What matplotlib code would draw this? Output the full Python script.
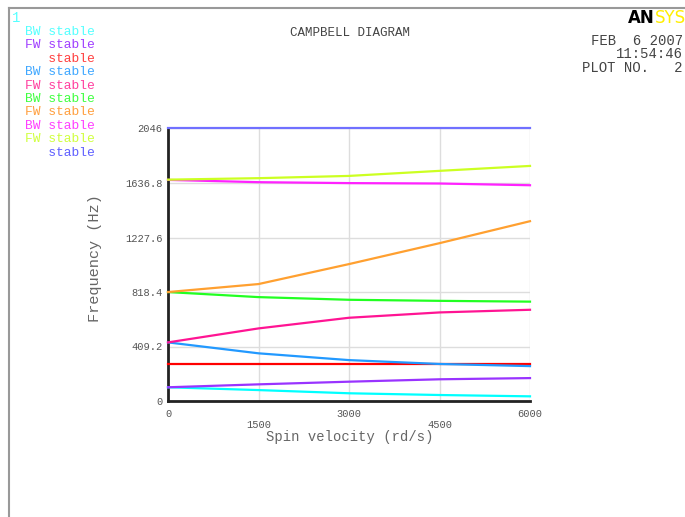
import matplotlib.pyplot as plt
from matplotlib.lines import Line2D

# spin velocity (rd/s)
spin = [0, 1500, 3000, 4500, 6000]

# whirl frequencies (Hz) per mode
modes = [
    ("BW", [103, 82, 58, 45, 35]),
    ("FW", [103, 125, 145, 163, 172]),
    ("", [275, 275, 275, 275, 275]),
    ("BW", [440, 358, 307, 278, 262]),
    ("FW", [440, 545, 625, 665, 685]),
    ("BW", [818, 780, 760, 752, 746]),
    ("FW", [818, 878, 1028, 1185, 1350]),
    ("BW", [1660, 1643, 1636, 1633, 1620]),
    ("FW", [1662, 1673, 1690, 1728, 1765]),
    ("", [2046, 2046, 2046, 2046, 2046]),
]
line_colors = ["#00ffff", "#9933ff", "#ff0000", "#2299ff", "#ff1493",
               "#22ff22", "#ffa030", "#ff22ff", "#ccff22", "#7070ff"]
text_colors = ["#55ffff", "#a040ff", "#ff4040", "#40a8ff", "#ff40a0",
               "#40ff40", "#ffa040", "#ff40ff", "#d0ff40", "#6060ff"]

yticks = [0, 409.2, 818.4, 1227.6, 1636.8, 2046]
ytick_labels = ["0", "409.2", "818.4", "1227.6", "1636.8", "2046"]
xticks = [0, 1500, 3000, 4500, 6000]

mono = "Liberation Mono"

fig = plt.figure(figsize=(6.85, 5.17), dpi=100)

# outer frame (left and top edges only)
fig.add_artist(Line2D([9 / 685, 9 / 685], [0, 1 - 8 / 517], color="#999999", lw=1.5))
fig.add_artist(Line2D([9 / 685, 1], [1 - 8 / 517, 1 - 8 / 517], color="#999999", lw=1.5))

ax = fig.add_axes([168 / 685, 1 - 401 / 517, 362 / 685, 272.5 / 517])
for (tag, freq), c in zip(modes, line_colors):
    ax.plot(spin, freq, color=c, lw=1.6, clip_on=False, zorder=3)

ax.set_xlim(0, 6000)
ax.set_ylim(0, 2046)
ax.set_yticks(yticks)
ax.set_yticklabels(ytick_labels, fontfamily=mono, fontsize=7.5, color="#555555")
ax.set_xticks(xticks)
ax.set_xticklabels([])
for i, xv in enumerate(xticks):
    ax.text(xv, -95 if i % 2 == 0 else -180, str(xv), ha="center", va="center",
            fontfamily=mono, fontsize=7.5, color="#555555")
ax.tick_params(length=0, pad=4)
ax.grid(True, color="#dddddd", lw=1)
ax.set_axisbelow(True)
for s in ["top", "right"]:
    ax.spines[s].set_visible(False)
for s in ["left", "bottom"]:
    ax.spines[s].set_color("#222222")
    ax.spines[s].set_linewidth(2)

fig.text(350 / 685, 1 - 437 / 517, "Spin velocity (rd/s)", ha="center", va="center",
         fontfamily=mono, fontsize=10, color="#666666")
fig.text(95 / 685, 1 - 258 / 517, "Frequency (Hz)", ha="center", va="center",
         rotation=90, fontfamily=mono, fontsize=11, color="#666666")

fig.text(350 / 685, 1 - 33 / 517, "CAMPBELL DIAGRAM", ha="center", va="center",
         fontfamily=mono, fontsize=9, color="#444444")

# legend
fig.text(12 / 685, 1 - 18 / 517, "1", ha="left", va="center",
         fontfamily=mono, fontsize=10, color="#55ffff")
for i, ((tag, freq), c) in enumerate(zip(modes, text_colors)):
    fig.text(95 / 685, 1 - (32 + i * 13.4) / 517, (tag + " stable").rjust(9),
             ha="right", va="center", fontfamily=mono, fontsize=9.4, color=c)

# header block at right
fig.text(628 / 685, 1 - 18 / 517, "AN", ha="left", va="center",
         fontfamily="DejaVu Sans", fontweight="bold", fontsize=12, color="black")
fig.text(655 / 685, 1 - 18 / 517, "SYS", ha="left", va="center",
         fontfamily="DejaVu Sans", fontsize=12, color="#ffee00")
for j, line in enumerate(["FEB  6 2007", "11:54:46", "PLOT NO.   2"]):
    fig.text(683 / 685, 1 - (41 + j * 13.5) / 517, line, ha="right", va="center",
             fontfamily=mono, fontsize=10, color="#444444")

fig.savefig("out.png", dpi=100)
